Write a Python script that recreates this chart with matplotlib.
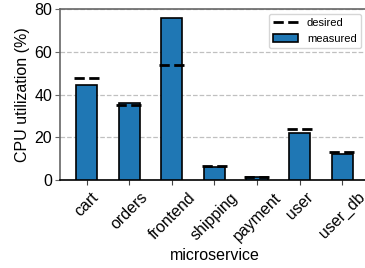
import matplotlib.pyplot as plt
import numpy as np

plt.rcParams['font.family'] = ['Liberation Sans', 'DejaVu Sans']

services = ["cart", "orders", "frontend", "shipping", "payment", "user", "user_db"]
measured = [44.5, 36, 76, 6, 1.5, 22, 12]
desired = [48, 35, 54, 6.5, 1.5, 24, 13]

fig = plt.figure(figsize=(3.65, 2.68), dpi=100)
ax = fig.add_axes([0.164, 0.328, 0.847, 0.638])

x = np.arange(len(services))
ax.bar(x, measured, width=0.5, color="#1f77b4", edgecolor="black",
       linewidth=1.2, label="measured", zorder=3)
ax.hlines(desired, x - 0.3, x + 0.3, colors="black", linestyles="--",
          linewidth=2, label="desired", zorder=4)

ax.set_ylim(0, 80)
ax.set_yticks([0, 20, 40, 60, 80])
ax.yaxis.grid(True, linestyle="--", color="#c0c0c0", linewidth=0.9, zorder=0)
ax.set_xticks(x)
ax.set_xticklabels(services, rotation=45, ha="center", fontsize=11.5)
ax.tick_params(axis="y", labelsize=11.5, pad=2, color="#666666")
ax.tick_params(axis="x", color="#444444")
ax.set_xlabel("microservice", fontsize=11.5, labelpad=3)
ax.set_ylabel("CPU utilization (%)", fontsize=11.5, labelpad=3)
for s in ["top", "right", "left"]:
    ax.spines[s].set_color("#666666")
    ax.spines[s].set_linewidth(1.2)
ax.spines["bottom"].set_linewidth(1.2)

ax.legend(loc="upper right", fontsize=8, bbox_to_anchor=(0.974, 0.972),
          borderaxespad=0, handlelength=2.2)

fig.savefig("out.png", dpi=100)
